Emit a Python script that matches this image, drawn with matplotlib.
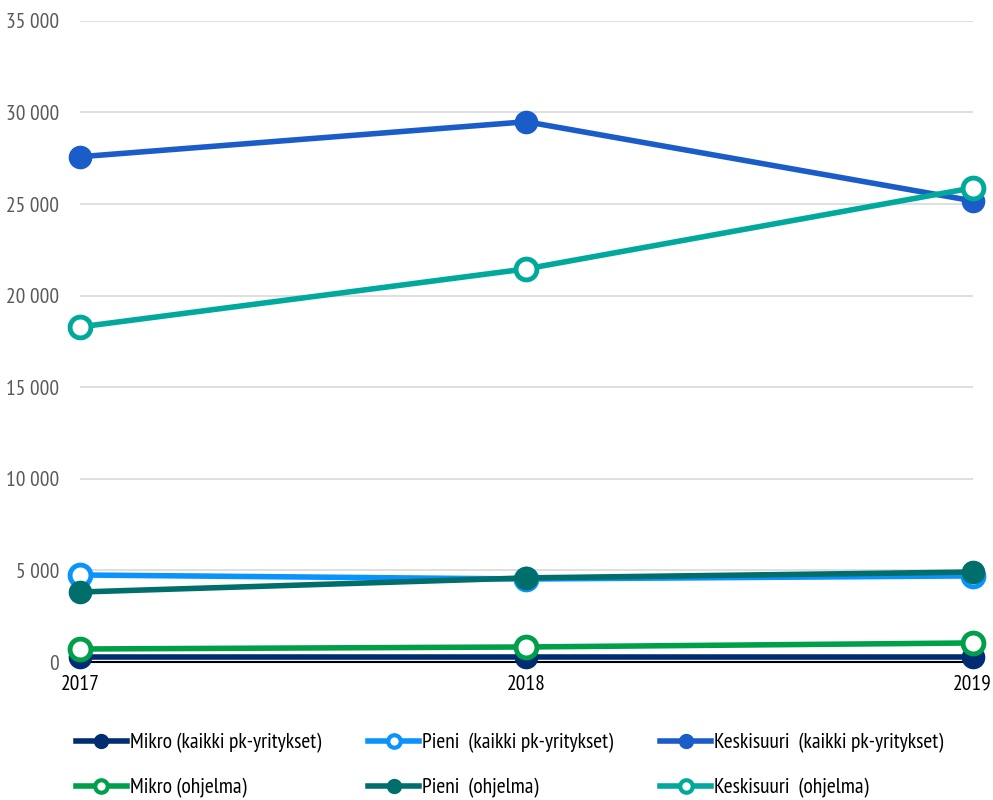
import matplotlib
matplotlib.use("Agg")
from matplotlib import pyplot as plt
from matplotlib.lines import Line2D
from matplotlib.ticker import FuncFormatter

plt.rcParams['font.family'] = ['PT Sans Narrow', 'DejaVu Sans']

# Data
years = [2017, 2018, 2019]
mikro_kaikki = [270, 270, 270]
pieni_kaikki = [4750, 4530, 4700]
keski_kaikki = [27580, 29490, 25170]
mikro_ohjelma = [710, 820, 1040]
pieni_ohjelma = [3820, 4590, 4910]
keski_ohjelma = [18290, 21460, 25880]

labels = ['Mikro (kaikki pk-yritykset)', 'Pieni  (kaikki pk-yritykset)',
          'Keskisuuri  (kaikki pk-yritykset)', 'Mikro (ohjelma)',
          'Pieni  (ohjelma)', 'Keskisuuri  (ohjelma)']
series = [mikro_kaikki, pieni_kaikki, keski_kaikki,
          mikro_ohjelma, pieni_ohjelma, keski_ohjelma]
colors = ['#002d72', '#0a93fa', '#1a5cc8', '#00a04b', '#006e6a', '#00a99c']
hollow = [False, True, False, True, False, True]

fig = plt.figure(figsize=(9.93, 8), dpi=100)
ax = fig.add_axes([0.0806, 0.1725, 0.899, 0.8015])

for y, col, h in zip(series, colors, hollow):
    ax.plot(years, y, color=col, lw=4, marker='o', ms=15 if h else 16,
            mfc='white' if h else col, mec=col, mew=3.5 if h else 1,
            clip_on=False, zorder=3)

ax.set_xlim(2017, 2019)
ax.set_ylim(0, 35000)
ax.set_xticks(years)
ax.set_yticks(range(0, 35001, 5000))
ax.yaxis.set_major_formatter(FuncFormatter(lambda v, p: f'{int(v):,}'.replace(',', ' ')))
ax.grid(axis='y', color='#d9d9d9', lw=1.2)
ax.set_axisbelow(True)
for s in ['top', 'right', 'left']:
    ax.spines[s].set_visible(False)
ax.spines['bottom'].set_color('black')
ax.spines['bottom'].set_linewidth(1.5)
ax.tick_params(axis='y', length=0, pad=15, labelsize=15.5, labelcolor='#595959')
ax.tick_params(axis='x', length=0, pad=9, labelsize=15.5, labelcolor='black')

handles = []
for col, h, lab in zip(colors, hollow, labels):
    handles.append(Line2D([], [], color=col, lw=4, marker='o', ms=9 if h else 10,
                          mfc='white' if h else col, mec=col, mew=3 if h else 1,
                          label=lab))
order = [0, 3, 1, 4, 2, 5]
fig.legend([handles[i] for i in order], [labels[i] for i in order],
           ncol=3, loc='lower left', bbox_to_anchor=(0.057, -0.022),
           frameon=False, fontsize=15.5, handlelength=2.35, handletextpad=0.15,
           columnspacing=2.2, labelspacing=1.15)

fig.savefig('out.png', dpi=100)
